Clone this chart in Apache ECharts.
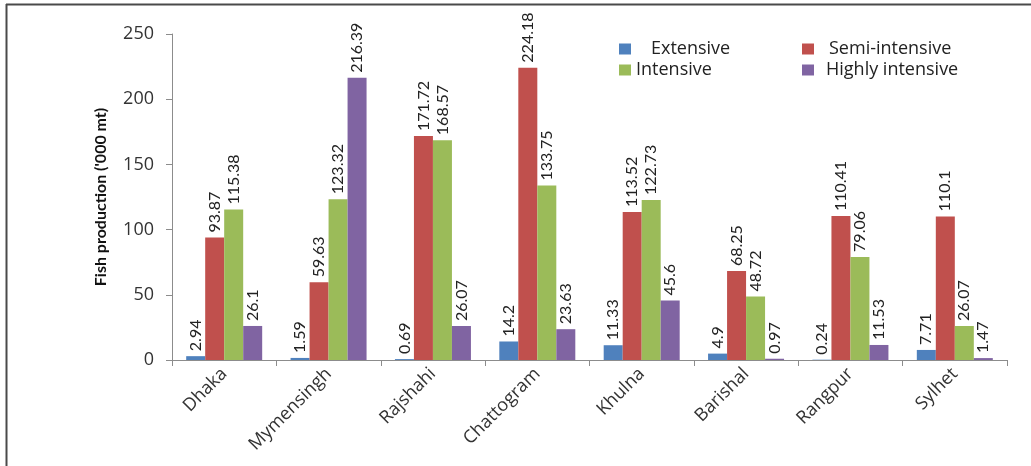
<!DOCTYPE html>
<html>
<head>
<meta charset="utf-8">
<script src="https://cdn.jsdelivr.net/npm/echarts@6/dist/echarts.min.js"></script>
<style>
  html, body { margin: 0; padding: 0; background: #fff; }
  #chart { width: 1031px; height: 466px; }
</style>
</head>
<body>
<div id="chart"></div>
<script>
// Fish production by division and culture system ('000 mt)
const divisions = ['Dhaka', 'Mymensingh', 'Rajshahi', 'Chattogram', 'Khulna', 'Barishal', 'Rangpur', 'Sylhet'];
const extensive = [2.94, 1.59, 0.69, 14.2, 11.33, 4.9, 0.24, 7.71];
const semiIntensive = [93.87, 59.63, 171.72, 224.18, 113.52, 68.25, 110.41, 110.1];
const intensive = [115.38, 123.32, 168.57, 133.75, 122.73, 48.72, 79.06, 26.07];
const highlyIntensive = [26.1, 216.39, 26.07, 23.63, 45.6, 0.97, 11.53, 1.47];
const yTicks = { min: 0, max: 250, interval: 50 };

const SANS = '"Open Sans", "Noto Sans", sans-serif';
const NUM = 'Lato, "Open Sans", sans-serif';

const seriesDefs = [
  { name: 'Extensive', data: extensive, color: '#4F81BD' },
  { name: 'Semi-intensive', data: semiIntensive, color: '#C0504D' },
  { name: 'Intensive', data: intensive, color: '#9BBB59' },
  { name: 'Highly intensive', data: highlyIntensive, color: '#8064A2' }
];

// one legend block per entry so the two columns line up
const legendPos = [
  { left: 619, top: 40, pad: 15 },
  { left: 802, top: 40, pad: 10 },
  { left: 619, top: 61, pad: 0 },
  { left: 802, top: 61, pad: 7 }
];

const chart = echarts.init(document.getElementById('chart'), null, { renderer: 'canvas' });

chart.setOption({
  animation: false,
  backgroundColor: '#fff',
  textStyle: { fontFamily: SANS },
  graphic: [
    { type: 'line', shape: { x1: 6, y1: 4.5, x2: 1031, y2: 4.5 }, style: { stroke: '#4a4a4a', lineWidth: 2 } },
    { type: 'line', shape: { x1: 6.5, y1: 4, x2: 6.5, y2: 466 }, style: { stroke: '#4a4a4a', lineWidth: 2 } }
  ],
  legend: seriesDefs.map((s, i) => ({
    data: [s.name],
    left: legendPos[i].left,
    top: legendPos[i].top,
    padding: 0,
    itemWidth: 12,
    itemHeight: 11,
    itemGap: 0,
    icon: 'rect',
    textStyle: { fontFamily: SANS, fontSize: 18, color: '#222', padding: [0, 0, 0, legendPos[i].pad] }
  })),
  grid: { left: 172, right: 24, top: 34, bottom: 106, containLabel: false },
  xAxis: {
    type: 'category',
    data: divisions,
    axisLine: { lineStyle: { color: '#8c8c8c' } },
    axisTick: { show: true, length: 6, alignWithLabel: false, lineStyle: { color: '#8c8c8c' } },
    axisLabel: { rotate: 45, fontSize: 18, color: '#333', margin: 11, fontFamily: SANS, interval: 0 }
  },
  yAxis: {
    type: 'value',
    min: yTicks.min,
    max: yTicks.max,
    interval: yTicks.interval,
    name: "Fish production ('000 mt)",
    nameLocation: 'middle',
    nameGap: 63,
    nameTextStyle: { fontFamily: NUM, fontSize: 16, fontWeight: 'bold', color: '#111' },
    axisLine: { show: true, lineStyle: { color: '#8c8c8c' } },
    axisTick: { show: true, length: 6, lineStyle: { color: '#8c8c8c' } },
    splitLine: { show: false },
    axisLabel: { fontSize: 18, color: '#333', margin: 18, fontFamily: SANS }
  },
  series: seriesDefs.map(s => ({
    name: s.name,
    type: 'bar',
    data: s.data,
    barWidth: 19,
    barGap: '0%',
    itemStyle: { color: s.color },
    label: {
      show: true,
      position: 'top',
      rotate: 90,
      align: 'left',
      verticalAlign: 'middle',
      distance: 5,
      fontSize: 16,
      color: '#222',
      fontFamily: NUM,
      formatter: p => String(p.value)
    }
  }))
});
</script>
</body>
</html>
